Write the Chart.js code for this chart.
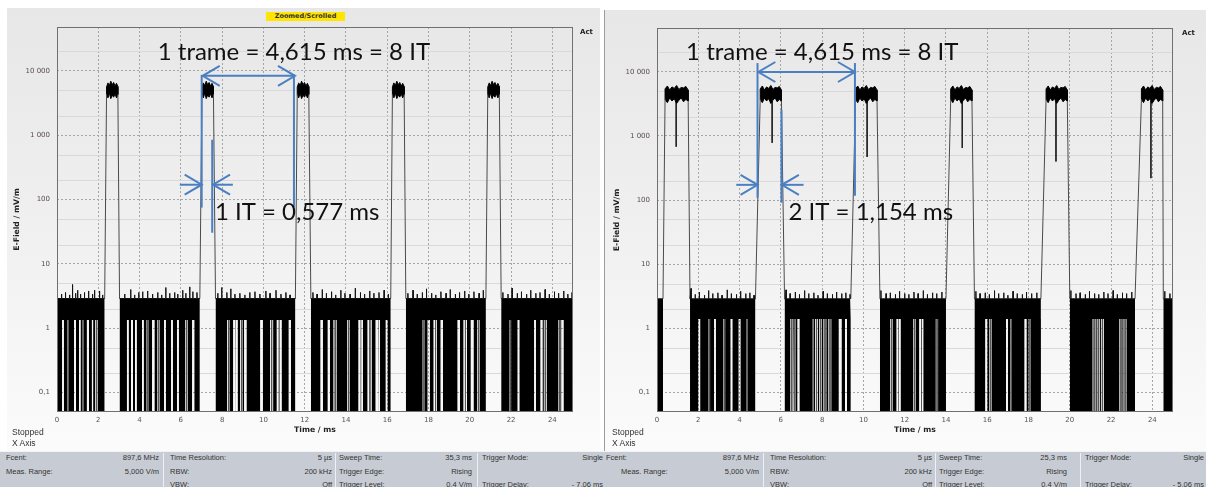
<!DOCTYPE html>
<html><head><meta charset="utf-8">
<script src="https://cdn.jsdelivr.net/npm/chart.js@4.4.1/dist/chart.umd.min.js"></script>
<style>
html,body{margin:0;padding:0}
body{width:1206px;height:487px;position:relative;overflow:hidden;background:#fff;font-family:"Liberation Sans",Arial,sans-serif}
.panel{position:absolute;background:linear-gradient(#e7e7e7 0%,#efefef 45%,#f8f8f8 85%,#fbfbfb 100%)}
#bgL{left:7px;top:8px;width:593px;height:443px}
#bgR{left:604px;top:10px;width:602px;height:441px;border-left:1px solid #9c9c9c}
canvas{position:absolute;top:0}
#cL{left:0}
#cR{left:600px}
.t{position:absolute;white-space:nowrap;line-height:10px}
.small{font-size:8.5px;color:#333}
.act{font-family:"DejaVu Sans";font-weight:bold;font-size:7px;color:#222}
.badge{position:absolute;left:266px;top:12px;width:79px;height:9px;background:#ffe500;font-family:"DejaVu Sans";font-weight:bold;font-size:6.5px;line-height:9px;text-align:center;color:#333}
#status{position:absolute;left:0;top:451px;width:1206px;height:36px;background:#c7ccd4;border-top:1px solid #f2f3f5}
.s{position:absolute;white-space:nowrap;font-size:7.5px;line-height:9px;color:#333}
.sep{position:absolute;top:1px;width:1px;height:35px;background:#eef0f3}
</style>
</head>
<body>
<div class="panel" id="bgL"></div>
<div class="panel" id="bgR"></div>
<canvas id="cL" width="600" height="452"></canvas>
<canvas id="cR" width="600" height="452"></canvas>
<div class="badge">Zoomed/Scrolled</div>
<div class="t act" style="left:580px;top:27px">Act</div>
<div class="t act" style="left:1182px;top:28px">Act</div>
<div class="t small" style="left:12px;top:427px">Stopped</div>
<div class="t small" style="left:12px;top:438px">X Axis</div>
<div class="t small" style="left:612px;top:427px">Stopped</div>
<div class="t small" style="left:612px;top:438px">X Axis</div>
<div id="status"></div>
<script>
// ---------- axis data ----------
const xTickValues = [0, 2, 4, 6, 8, 10, 12, 14, 16, 18, 20, 22, 24];
const yTickValues = [0.1, 1, 10, 100, 1000, 10000];
const yTickLabels = ['0,1', '1', '10', '100', '1 000', '10 000'];
const yMinorValues = [0.2, 0.5, 2, 5, 20, 50, 200, 500, 2000, 5000, 20000];
const floorValue = 0.01;

// ---------- left trace (ms, mV/m) ----------
const burstsL = [[2.40, 2.95], [7.02, 7.58], [11.64, 12.20], [16.25, 16.82], [20.87, 21.43]];
const noiseL = [[0, 2.31], [3.03, 6.92], [7.68, 11.55], [12.30, 16.17], [16.90, 20.78], [21.52, 25]];
const bandL = [1.35, 2.9];
const burstTopL = [5600, 6500, 5900, 6900, 6100, 6600, 5800, 6400, 5700];
const burstBottomL = [4300, 3800, 4500, 3700, 4200, 3900, 4400, 3800, 4300];
const spikesL = [
  [0.22, 3.4], [0.41, 3.6], [0.61, 3.3], [0.75, 4.8], [0.90, 3.5], [1.00, 3.9], [1.14, 3.4], [1.33, 3.6], [1.53, 3.8], [1.72, 3.4], [1.82, 3.9], [2.06, 3.8], [2.21, 3.3],
  [3.28, 3.4], [3.57, 4.0], [3.76, 3.3], [3.96, 3.6], [4.15, 3.7], [4.39, 3.8], [4.63, 3.4], [4.88, 3.6], [5.07, 3.3], [5.27, 4.3], [5.46, 3.5], [5.70, 3.6], [5.85, 3.4], [6.09, 3.9], [6.24, 3.5], [6.43, 4.4], [6.58, 3.7], [6.78, 3.6],
  [7.79, 3.5], [7.98, 4.3], [8.23, 3.6], [8.42, 4.1], [8.62, 3.4], [8.86, 3.5], [9.10, 3.3], [9.34, 3.6], [9.59, 3.7], [9.83, 3.4], [10.12, 3.8], [10.32, 3.5], [10.61, 3.9], [10.85, 3.4], [11.09, 3.6], [11.29, 3.3],
  [12.40, 3.6], [12.60, 3.4], [12.85, 4.0], [13.05, 3.5], [13.30, 3.7], [13.50, 3.3], [13.75, 3.9], [13.95, 3.5], [14.20, 3.4], [14.45, 4.2], [14.70, 3.6], [14.90, 3.4], [15.15, 3.8], [15.35, 3.5], [15.60, 3.6], [15.85, 3.9], [16.05, 3.4],
  [17.00, 3.5], [17.25, 3.9], [17.45, 3.4], [17.70, 3.6], [17.90, 4.1], [18.15, 3.5], [18.35, 3.3], [18.60, 3.7], [18.85, 3.5], [19.05, 4.0], [19.30, 3.4], [19.50, 3.6], [19.75, 3.8], [19.95, 3.4], [20.20, 3.7], [20.45, 3.5], [20.65, 3.9],
  [21.60, 3.6], [21.85, 3.4], [22.05, 4.2], [22.30, 3.5], [22.50, 3.7], [22.75, 3.4], [22.95, 3.9], [23.20, 3.5], [23.40, 3.6], [23.65, 4.0], [23.85, 3.4], [24.10, 3.7], [24.30, 3.5], [24.55, 3.8], [24.75, 3.4], [24.95, 3.6]
];
const dipsL = [
  [0.00, 0.25], [0.33, 0.49], [0.58, 0.83], [0.92, 1.07], [1.14, 1.21], [1.30, 1.45], [1.55, 1.69], [1.75, 1.85], [1.96, 2.31],
  [3.03, 3.39], [3.47, 3.59], [3.68, 3.78], [3.86, 4.12], [4.20, 4.32], [4.42, 4.61], [4.72, 4.85], [4.96, 5.19], [5.27, 5.53], [5.61, 5.82], [5.90, 6.21], [6.32, 6.55], [6.65, 6.92],
  [7.68, 8.25], [8.35, 8.54], [8.64, 8.67], [8.75, 8.88], [8.98, 9.07], [9.18, 9.85], [9.97, 10.33], [10.47, 10.65], [10.73, 10.79], [10.88, 11.23], [11.33, 11.55],
  [12.30, 12.77], [12.88, 13.12], [13.22, 13.40], [13.54, 14.07], [14.18, 14.61], [14.70, 14.75], [14.82, 15.05], [15.24, 15.44], [15.56, 15.59], [15.65, 15.93], [16.01, 16.17],
  [16.90, 17.72], [17.82, 17.96], [18.06, 18.25], [18.40, 18.59], [18.70, 19.41], [19.52, 19.70], [19.86, 20.05], [20.18, 20.37], [20.48, 20.78],
  [21.52, 21.92], [22.00, 22.32], [22.40, 23.12], [23.20, 23.43], [23.52, 23.59], [23.72, 24.29], [24.38, 24.44], [24.54, 25.00]
];
const dipLinesL = [0.54, 1.26, 1.91, 4.37, 4.91, 6.27, 8.31, 8.94, 10.40, 13.48, 14.13, 15.16, 17.78, 18.34, 19.79, 20.43, 21.96, 23.66, 24.34];
const notchesL = [];

// ---------- right trace (ms, mV/m) ----------
const burstsR = [[0.39, 1.51], [5.00, 6.03], [9.62, 10.66], [14.23, 15.26], [18.85, 19.88], [23.47, 24.50]];
const noiseR = [[0, 0.29], [1.60, 4.77], [6.18, 9.39], [10.80, 14.00], [15.38, 18.60], [20.00, 23.16], [24.53, 25]];
const bandR = [1.4, 2.9];
const burstTopR = [5400, 6000, 5200, 5800, 5500, 6100, 5300, 5700, 5600, 5900, 5200];
const burstBottomR = [3700, 3300, 3900, 3500, 3800, 3200, 3600, 3900, 3400, 3700, 3500];
const spikesR = [
  [1.65, 4.2], [1.85, 3.4], [2.05, 3.7], [2.30, 3.3], [2.50, 3.9], [2.70, 3.5], [2.95, 3.6], [3.15, 3.3], [3.40, 4.0], [3.60, 3.5], [3.85, 3.4], [4.05, 3.8], [4.30, 3.5], [4.50, 3.6], [4.70, 3.3],
  [6.25, 4.0], [6.45, 3.5], [6.70, 3.7], [6.90, 3.4], [7.15, 3.9], [7.35, 3.5], [7.60, 3.6], [7.80, 3.3], [8.05, 3.8], [8.25, 3.5], [8.50, 3.4], [8.70, 3.7], [8.95, 3.5], [9.15, 3.6], [9.35, 3.4],
  [10.85, 3.9], [11.10, 3.5], [11.30, 3.6], [11.55, 3.4], [11.75, 3.8], [12.00, 3.5], [12.20, 3.4], [12.45, 3.7], [12.65, 3.5], [12.90, 3.9], [13.10, 3.4], [13.35, 3.6], [13.55, 3.5], [13.80, 3.7],
  [15.45, 3.8], [15.65, 3.5], [15.90, 3.6], [16.10, 3.4], [16.35, 3.9], [16.55, 3.5], [16.80, 3.6], [17.00, 3.3], [17.25, 3.8], [17.45, 3.5], [17.70, 3.4], [17.90, 3.7], [18.15, 3.5], [18.40, 3.6],
  [20.05, 3.9], [20.30, 3.5], [20.50, 3.6], [20.75, 3.4], [20.95, 3.8], [21.20, 3.5], [21.40, 3.4], [21.65, 3.7], [21.85, 3.5], [22.10, 3.9], [22.30, 3.4], [22.55, 3.6], [22.75, 3.5], [23.00, 3.7],
  [24.60, 3.8], [24.85, 3.5]
];
const dipsR = [
  [0.00, 0.29],
  [1.60, 2.01], [2.09, 2.49], [2.57, 2.77], [2.85, 3.21], [3.30, 3.57], [3.65, 3.96], [4.04, 4.32], [4.40, 4.77],
  [6.18, 6.47], [6.59, 6.63], [6.73, 6.81], [6.90, 7.51], [7.60, 7.67], [7.79, 7.87], [7.99, 8.07], [8.20, 8.31], [8.44, 8.81], [8.94, 9.11], [9.20, 9.39],
  [10.80, 11.31], [11.42, 11.61], [11.69, 11.73], [11.80, 12.41], [12.52, 12.71], [12.79, 12.83], [12.90, 13.51], [13.62, 14.00],
  [15.38, 15.91], [16.00, 16.11], [16.22, 16.91], [17.00, 17.11], [17.20, 17.81], [17.90, 18.01], [18.12, 18.60],
  [20.00, 21.11], [21.24, 21.31], [21.44, 21.51], [21.64, 22.41], [22.54, 22.61], [22.74, 23.16],
  [24.53, 25.00]
];
const dipLinesR = [2.53, 3.26, 4.36, 6.53, 6.68, 7.55, 7.73, 7.93, 8.14, 8.38, 11.37, 12.47, 13.57, 16.17, 17.16, 18.07, 21.18, 21.38, 21.58, 22.48, 22.68];
const notchesR = [[0.93, 680], [5.58, 780], [10.18, 470], [14.79, 650], [19.33, 400], [23.93, 220]];

// ---------- annotations (ms, mV/m) ----------
const annotL = {
  lines: [[7.06, 8360, 11.53, 8360], [7.01, 8660, 7.01, 75], [11.48, 8660, 11.48, 77], [7.52, 850, 7.52, 30.5], [5.95, 170, 7.01, 170], [8.52, 170, 7.56, 170]],
  heads: [[7.06, 8360, -1], [11.53, 8360, 1], [7.01, 170, 1], [7.56, 170, -1]],
  texts: [['1 trame = 4,615 ms = 8 IT', 4.88, 14800], ['1 IT = 0,577 ms', 7.65, 48.5]]
};
const annotR = {
  lines: [[4.91, 9900, 9.59, 9900], [4.87, 13650, 4.87, 108.7], [9.59, 13650, 9.59, 117], [6.03, 2537, 6.03, 90.8], [3.84, 173, 4.87, 173], [7.10, 173, 6.05, 173]],
  heads: [[4.91, 9900, -1], [9.59, 9900, 1], [4.87, 173, 1], [6.05, 173, -1]],
  texts: [['1 trame = 4,615 ms = 8 IT', 1.41, 15200], ['2 IT = 1,154 ms', 6.37, 49.4]]
};

// ---------- status bar ----------
const statusItems = [
  ['Fcent:', 6, 0, 'l'], ['897,6 MHz', 159, 0, 'r'], ['Time Resolution:', 170, 0, 'l'], ['5 µs', 332, 0, 'r'], ['Sweep Time:', 339, 0, 'l'], ['35,3 ms', 472, 0, 'r'], ['Trigger Mode:', 482, 0, 'l'], ['Single', 603, 0, 'r'],
  ['Meas. Range:', 6, 1, 'l'], ['5,000 V/m', 159, 1, 'r'], ['RBW:', 170, 1, 'l'], ['200 kHz', 332, 1, 'r'], ['Trigger Edge:', 339, 1, 'l'], ['Rising', 472, 1, 'r'],
  ['VBW:', 170, 2, 'l'], ['Off', 332, 2, 'r'], ['Trigger Level:', 339, 2, 'l'], ['0,4 V/m', 472, 2, 'r'], ['Trigger Delay:', 482, 2, 'l'], ['- 7,06 ms', 603, 2, 'r'],
  ['Fcent:', 606, 0, 'l'], ['897,6 MHz', 759, 0, 'r'], ['Time Resolution:', 770, 0, 'l'], ['5 µs', 932, 0, 'r'], ['Sweep Time:', 939, 0, 'l'], ['25,3 ms', 1067, 0, 'r'], ['Trigger Mode:', 1085, 0, 'l'], ['Single', 1204, 0, 'r'],
  ['Meas. Range:', 621, 1, 'l'], ['5,000 V/m', 759, 1, 'r'], ['RBW:', 770, 1, 'l'], ['200 kHz', 932, 1, 'r'], ['Trigger Edge:', 939, 1, 'l'], ['Rising', 1067, 1, 'r'],
  ['VBW:', 770, 2, 'l'], ['Off', 932, 2, 'r'], ['Trigger Level:', 939, 2, 'l'], ['0,4 V/m', 1067, 2, 'r'], ['Trigger Delay:', 1085, 2, 'l'], ['- 5,06 ms', 1204, 2, 'r']
];
const statusSeps = [163, 335, 477, 763, 935, 1080];
(function () {
  const bar = document.getElementById('status');
  const rowTop = [1, 14.5, 27.5];
  statusItems.forEach(([txt, x, r, al]) => {
    const el = document.createElement('div');
    el.className = 's'; el.textContent = txt; el.style.top = rowTop[r] + 'px';
    if (al === 'l') el.style.left = x + 'px'; else el.style.right = (1206 - x) + 'px';
    bar.appendChild(el);
  });
  statusSeps.forEach(x => { const el = document.createElement('div'); el.className = 'sep'; el.style.left = x + 'px'; bar.appendChild(el); });
})();

// ---------- chart construction ----------
function buildDatasets(p) {
  const ds = [];
  const lo = p.band[0], hi = p.band[1];
  const bandPts = [];
  p.noise.forEach(([s, e]) => {
    bandPts.push({ x: s, y: hi });
    p.spikes.filter(([t]) => t > s && t < e).forEach(([t, v]) => {
      bandPts.push({ x: t - 0.008, y: hi }, { x: t, y: v }, { x: t + 0.008, y: hi });
    });
    bandPts.push({ x: e, y: hi }, { x: e, y: null });
  });
  ds.push({ data: bandPts, borderColor: '#111', backgroundColor: '#000', fill: { value: lo }, borderWidth: 1 });

  const dipPts = [];
  p.dips.forEach(([a, b]) => dipPts.push({ x: a, y: lo }, { x: a, y: floorValue }, { x: b, y: floorValue }, { x: b, y: lo }, { x: b, y: null }));
  ds.push({ data: dipPts, borderColor: 'rgba(0,0,0,0)', backgroundColor: '#000', fill: { value: lo }, borderWidth: 0 });

  const linePts = [];
  p.dipLines.forEach(t => linePts.push({ x: t, y: lo }, { x: t, y: floorValue }, { x: t, y: null }));
  ds.push({ data: linePts, borderColor: '#555', fill: false, borderWidth: 1 });

  const edgePts = [];
  p.bursts.forEach(([bs, be]) => {
    const before = p.noise.filter(([s, e]) => e <= bs).pop();
    const after = p.noise.find(([s]) => s >= be);
    edgePts.push({ x: before[1], y: hi }, { x: bs, y: p.burstBottom[0] }, { x: bs, y: null });
    if (after) edgePts.push({ x: be, y: p.burstBottom[p.burstBottom.length - 1] }, { x: after[0], y: hi }, { x: after[0], y: null });
  });
  ds.push({ data: edgePts, borderColor: '#4a4a4a', fill: false, borderWidth: 1 });

  p.bursts.forEach(([bs, be]) => {
    const pts = [];
    const n = p.burstTop.length, m = p.burstBottom.length;
    p.burstTop.forEach((v, i) => pts.push({ x: bs + (be - bs) * i / (n - 1), y: v }));
    for (let i = m - 1; i >= 0; i--) pts.push({ x: bs + (be - bs) * i / (m - 1), y: p.burstBottom[i] });
    pts.push({ x: bs, y: p.burstTop[0] });
    ds.push({ data: pts, borderColor: '#000', backgroundColor: '#000', fill: 'shape', borderWidth: 1 });
  });

  const notchPts = [];
  p.notches.forEach(([t, v]) => notchPts.push({ x: t, y: 3500 }, { x: t, y: v }, { x: t, y: null }));
  ds.push({ data: notchPts, borderColor: '#222', fill: false, borderWidth: 1 });
  return ds;
}

function panelPlugin(annot) {
  return {
    id: 'panelDecor',
    beforeDatasetsDraw(chart) {
      const { ctx, chartArea: a, scales: { y } } = chart;
      ctx.save();
      ctx.strokeStyle = '#d9d9d9'; ctx.lineWidth = 1;
      yMinorValues.forEach(v => {
        const py = Math.round(y.getPixelForValue(v)) + 0.5;
        ctx.beginPath(); ctx.moveTo(a.left, py); ctx.lineTo(a.right, py); ctx.stroke();
      });
      ctx.restore();
    },
    afterDatasetsDraw(chart) {
      const { ctx, chartArea: a, scales: { x, y } } = chart;
      const X = v => x.getPixelForValue(v), Y = v => y.getPixelForValue(v);
      ctx.save();
      ctx.strokeStyle = '#707070'; ctx.lineWidth = 1;
      ctx.strokeRect(Math.round(a.left) + 0.5, Math.round(a.top) + 0.5, Math.round(a.right - a.left) - 1, Math.round(a.bottom - a.top) - 1);
      ctx.strokeStyle = '#4a7fc1'; ctx.lineWidth = 2; ctx.lineCap = 'butt';
      annot.lines.forEach(([x0, y0, x1, y1]) => { ctx.beginPath(); ctx.moveTo(X(x0), Y(y0)); ctx.lineTo(X(x1), Y(y1)); ctx.stroke(); });
      annot.heads.forEach(([xt, yt, dir]) => {
        const px = X(xt), py = Y(yt);
        ctx.beginPath(); ctx.moveTo(px - dir * 17, py - 10); ctx.lineTo(px, py); ctx.lineTo(px - dir * 17, py + 10); ctx.stroke();
      });
      ctx.fillStyle = '#111'; ctx.font = '24px Lato'; ctx.textBaseline = 'alphabetic'; ctx.textAlign = 'left';
      annot.texts.forEach(([t, xv, yv]) => ctx.fillText(t, X(xv), Y(yv)));
      ctx.restore();
    }
  };
}

function makeChart(id, p, annot, padTop) {
  new Chart(document.getElementById(id), {
    type: 'line',
    data: { datasets: buildDatasets(p) },
    options: {
      responsive: false, animation: false, events: [],
      layout: { padding: { top: padTop, right: 27, left: 0, bottom: 0 } },
      plugins: { legend: { display: false }, tooltip: { enabled: false } },
      elements: { point: { radius: 0 }, line: { tension: 0 } },
      spanGaps: false,
      scales: {
        x: {
          type: 'linear', min: 0, max: 25,
          afterBuildTicks: s => { s.ticks = xTickValues.map(v => ({ value: v })); },
          afterFit: s => { s.height = 40; },
          ticks: { font: { family: 'DejaVu Sans', size: 7 }, color: '#555', padding: 4, maxRotation: 0, autoSkip: false, callback: v => String(v) },
          grid: { color: '#a6a6a6', drawTicks: false },
          border: { display: false, dash: [2, 2] },
          title: { display: true, text: 'Time / ms', font: { family: 'DejaVu Sans', size: 7.7, weight: 'bold' }, color: '#222', padding: { top: 0, bottom: 17 } }
        },
        y: {
          type: 'logarithmic', min: 0.05, max: 48000,
          afterBuildTicks: s => { s.ticks = yTickValues.map(v => ({ value: v })); },
          afterFit: s => { s.width = 57; },
          ticks: { font: { family: 'DejaVu Sans', size: 7 }, color: '#5a4e4e', padding: 7, autoSkip: false, callback: v => { const i = yTickValues.indexOf(v); return i >= 0 ? yTickLabels[i] : ''; } },
          grid: { color: '#a6a6a6', drawTicks: false },
          border: { display: false, dash: [2, 2] },
          title: { display: true, text: 'E-Field / mV/m', font: { family: 'DejaVu Sans', size: 7.7, weight: 'bold' }, color: '#222', padding: { top: 12, bottom: 0 } }
        }
      }
    },
    plugins: [panelPlugin(annot)]
  });
}

makeChart('cL', { bursts: burstsL, noise: noiseL, band: bandL, burstTop: burstTopL, burstBottom: burstBottomL, spikes: spikesL, dips: dipsL, dipLines: dipLinesL, notches: notchesL }, annotL, 27);
makeChart('cR', { bursts: burstsR, noise: noiseR, band: bandR, burstTop: burstTopR, burstBottom: burstBottomR, spikes: spikesR, dips: dipsR, dipLines: dipLinesR, notches: notchesR }, annotR, 28);
</script>
</body></html>
